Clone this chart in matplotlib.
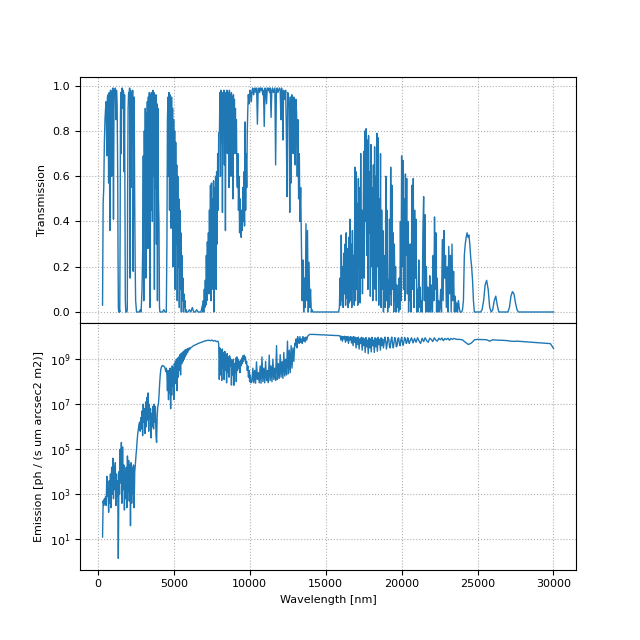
import numpy as np
import matplotlib
matplotlib.use("Agg")
import matplotlib.pyplot as plt

plt.rcParams["font.size"] = 8

# ---------------- Transmission (values read per wavelength band, nm) ----------------
t_b1 = [0.03, 0.48, 0.55, 0.75, 0.85, 0.90, 0.93, 0.69, 0.95, 0.96, 0.57, 0.97, 0.36,
        0.98, 0.97, 0.60, 0.98, 0.99, 0.41, 0.98, 0.97, 0.99, 0.85, 0.98, 0.92, 0.60]
t_b2 = [0.25, 0.02, 0.0, 0.0, 0.01, 0.0, 0.35, 0.85]
t_b3 = [0.97, 0.70, 0.98, 0.99, 0.90, 0.98, 0.97, 0.62, 0.96, 0.40]
t_b4 = [0.05, 0.0, 0.0, 0.0, 0.01]
t_b5 = [0.50, 0.90, 0.97, 0.96, 0.99, 0.15, 0.98, 0.55, 0.97, 0.85, 0.98, 0.18, 0.70,
        0.95, 0.50, 0.20]
t_b6 = [0.05, 0.0, 0.0, 0.0, 0.0, 0.01, 0.0, 0.10]
t_b7 = [0.30, 0.69, 0.05, 0.80, 0.40, 0.90, 0.15, 0.88, 0.60, 0.93, 0.28, 0.95, 0.70,
        0.97, 0.02, 0.96, 0.45, 0.97, 0.85, 0.40, 0.98, 0.60, 0.97, 0.10, 0.95, 0.55,
        0.96, 0.30, 0.92, 0.05, 0.90, 0.50, 0.40, 0.02]
t_b8 = [0.0, 0.0, 0.0, 0.01, 0.0, 0.0]
t_b9 = [0.30, 0.85, 0.95, 0.60, 0.97, 0.45, 0.96, 0.93, 0.37, 0.95, 0.70, 0.90, 0.20,
        0.85, 0.50, 0.80, 0.10, 0.75, 0.30, 0.65, 0.05, 0.60, 0.20, 0.50, 0.02, 0.45,
        0.10, 0.35, 0.0, 0.25, 0.05, 0.15, 0.0, 0.08, 0.02, 0.05, 0.0, 0.01]
t_b10 = [0.0, 0.0, 0.01, 0.0, 0.02, 0.0, 0.0, 0.01, 0.0, 0.0, 0.0, 0.03]
t_b11 = [0.0, 0.05, 0.0, 0.10, 0.02, 0.14, 0.03, 0.25, 0.05, 0.31, 0.10, 0.35, 0.08,
         0.45, 0.15, 0.56, 0.05, 0.57, 0.20, 0.50, 0.10, 0.58, 0.0, 0.55, 0.25, 0.60,
         0.10, 0.62, 0.30, 0.70, 0.45, 0.79]
t_b12 = [0.80, 0.97, 0.60, 0.98, 0.75, 0.97, 0.44, 0.96, 0.85, 0.98, 0.65, 0.97, 0.36,
         0.95, 0.80, 0.98, 0.70, 0.97, 0.90, 0.55, 0.98, 0.75, 0.96, 0.60, 0.97, 0.85,
         0.95, 0.50, 0.96, 0.80, 0.94, 0.70, 0.90, 0.75, 0.85, 0.60]
t_b13 = [0.55, 0.70, 0.45, 0.60, 0.35, 0.50, 0.40, 0.33, 0.45, 0.36, 0.55, 0.40, 0.62,
         0.38, 0.84, 0.45, 0.70, 0.55, 0.80, 0.90]
t_b14 = [0.96, 0.92, 0.98, 0.97, 0.93, 0.98, 0.99, 0.96, 0.98, 0.99, 0.97, 0.99, 0.83,
         0.98, 0.99, 0.97, 0.99, 0.98, 0.99, 0.96, 0.98, 0.82, 0.99, 0.98, 0.92, 0.99,
         0.98, 0.99, 0.97, 0.99, 0.86, 0.98, 0.99, 0.97, 0.98, 0.99, 0.65, 0.98, 0.99,
         0.97, 0.98, 0.99]
t_b15 = [0.98, 0.85, 0.99, 0.97, 0.76, 0.98, 0.97, 0.94, 0.98, 0.80, 0.51, 0.97, 0.96,
         0.90, 0.44, 0.95, 0.57, 0.96, 0.93, 0.70, 0.95, 0.92, 0.65, 0.94, 0.88, 0.60,
         0.85, 0.50, 0.70, 0.40, 0.55]
t_b16 = [0.30, 0.05, 0.23, 0.0, 0.15, 0.02, 0.39, 0.05, 0.36, 0.0, 0.22, 0.02, 0.10,
         0.0, 0.01]
t_b17 = [0.0, 0.0, 0.0, 0.0, 0.0, 0.0, 0.0, 0.0]
t_b18a = [0.02, 0.15, 0.03, 0.34, 0.05, 0.20, 0.02, 0.26, 0.08, 0.30, 0.03, 0.35, 0.06,
          0.28, 0.02, 0.33, 0.04, 0.41, 0.05, 0.30, 0.02, 0.36, 0.10, 0.25, 0.03]
t_b18b = [0.64, 0.05, 0.62, 0.10, 0.48, 0.03, 0.59, 0.20, 0.55, 0.04, 0.70, 0.15, 0.45, 0.08]
t_b18c = [0.30, 0.71, 0.15, 0.80, 0.40, 0.81, 0.25, 0.76, 0.10, 0.78, 0.35, 0.62, 0.07,
          0.74, 0.20, 0.55, 0.05, 0.65, 0.12]
t_b18d = [0.73, 0.10, 0.60, 0.05, 0.79, 0.20, 0.77, 0.03, 0.50, 0.15, 0.70, 0.02, 0.45,
          0.10, 0.36, 0.0, 0.25, 0.05]
t_b18e = [0.02, 0.60, 0.05, 0.45, 0.0, 0.14, 0.02, 0.41, 0.08, 0.64, 0.03, 0.56, 0.10,
          0.35, 0.0, 0.30, 0.05, 0.20, 0.0, 0.12, 0.02, 0.08, 0.0, 0.15, 0.01, 0.40, 0.05]
t_b18f = [0.69, 0.20, 0.67, 0.10, 0.50, 0.05, 0.61, 0.25, 0.59, 0.08, 0.40, 0.0, 0.30]
t_b18g = [0.05, 0.30, 0.0, 0.56, 0.10, 0.59, 0.02, 0.45, 0.15, 0.41, 0.0, 0.10, 0.0,
          0.23, 0.02, 0.11, 0.0, 0.05, 0.0, 0.35]
t_b18h = [0.51, 0.05, 0.43, 0.0, 0.20, 0.0, 0.11, 0.02, 0.0, 0.16, 0.0, 0.12, 0.03, 0.0,
          0.25, 0.05, 0.42, 0.10, 0.35, 0.0, 0.15, 0.0, 0.05, 0.0]
t_b18i = [0.02, 0.10, 0.0, 0.32, 0.05, 0.36, 0.15, 0.25, 0.02, 0.20, 0.0, 0.29, 0.08,
          0.25, 0.0, 0.30, 0.05, 0.18, 0.0, 0.07, 0.0, 0.04, 0.0, 0.05, 0.02, 0.0, 0.0]
t_b19 = [0.0, 0.01, 0.05, 0.25, 0.30, 0.33, 0.35, 0.33, 0.34, 0.30, 0.24, 0.20, 0.14,
         0.05, 0.0, 0.0]
t_b20 = [0.0, 0.0, 0.0, 0.0, 0.01, 0.05, 0.12, 0.14, 0.10, 0.02, 0.0, 0.01, 0.05, 0.07,
         0.03, 0.0, 0.0, 0.0, 0.0, 0.0, 0.0, 0.0, 0.02, 0.07, 0.09, 0.08, 0.04, 0.01,
         0.0, 0.0, 0.0, 0.0, 0.0, 0.0, 0.0, 0.0, 0.0, 0.0, 0.0, 0.0, 0.0, 0.0, 0.0, 0.0,
         0.0, 0.0, 0.0, 0.0, 0.0, 0.0, 0.0, 0.0]

trans_bands = [
    (300, 1300, t_b1), (1320, 1480, t_b2), (1500, 1780, t_b3), (1800, 1930, t_b4),
    (1950, 2450, t_b5), (2480, 2900, t_b6), (2950, 4050, t_b7), (4080, 4500, t_b8),
    (4540, 5800, t_b9), (5830, 6880, t_b10), (6900, 7950, t_b11), (8000, 9150, t_b12),
    (9180, 9870, t_b13), (9900, 11950, t_b14), (12000, 13350, t_b15),
    (13400, 14100, t_b16), (14150, 15850, t_b17), (15900, 16880, t_b18a),
    (16920, 17420, t_b18b), (17460, 18180, t_b18c), (18220, 18880, t_b18d),
    (18920, 19960, t_b18e), (20000, 20500, t_b18f), (20540, 21400, t_b18g),
    (21450, 22480, t_b18h), (22520, 23900, t_b18i), (23950, 24850, t_b19),
    (24900, 30000, t_b20),
]

# ---------------- Emission, log10 of ph/(s um arcsec2 m2) ----------------
e_b1 = [1.1, 2.7, 2.5, 2.8, 2.6, 2.9, 2.5, 3.8, 2.9, 3.3, 2.2, 3.6, 2.6, 3.9, 2.4, 4.2,
        3.0, 4.6, 2.8, 4.2, 3.2, 4.4, 2.5, 3.9, 2.9, 3.6, 0.15, 4.0, 3.0, 5.0, 3.5, 5.3,
        2.6, 5.1, 3.2, 4.3, 2.3, 4.0, 2.8, 4.2, 2.4, 4.7, 3.1, 4.5, 2.7, 4.3, 1.6, 4.4,
        2.6, 4.2, 3.0, 4.3, 2.4, 4.0]
e_b2 = [4.3, 4.7, 5.0, 5.4, 5.7, 5.9, 6.1, 6.2, 5.8, 6.4, 5.9, 6.7, 5.6, 7.0, 6.2, 6.8,
        5.7, 7.1, 6.0, 7.3, 6.3, 7.5, 5.8, 7.0, 6.4, 6.8, 5.5, 6.6, 6.0, 6.9, 5.9, 7.0,
        6.2, 6.9, 5.6, 5.3, 6.5, 6.9, 7.0]
e_b3 = [7.4, 7.9, 8.3, 8.55, 8.65, 8.7, 8.72, 8.7, 8.68, 8.66, 8.6, 8.45, 8.6]
e_b4 = [8.3, 7.6, 8.5, 7.2, 8.4, 7.5, 8.6, 6.8, 8.5, 7.4, 8.7, 7.8, 8.6, 7.2, 8.8, 7.9, 8.9]
e_b5 = [8.0, 9.0, 7.6, 9.05, 8.2, 9.1, 8.5, 9.2, 8.3, 9.25, 8.8, 9.3, 8.9, 9.35, 9.0,
        9.4, 9.1, 9.42, 9.2, 9.45, 9.3, 9.48, 9.4, 9.5, 9.45]
e_b6 = [9.5, 9.55, 9.6, 9.63, 9.66, 9.7, 9.72, 9.75, 9.77, 9.8, 9.82, 9.83, 9.84, 9.82,
        9.85, 9.8, 9.83, 9.78, 9.8]
e_b7 = [9.7, 8.1, 9.5, 8.3, 9.4, 8.05, 9.45, 8.6, 9.3, 8.1, 9.35, 8.5, 9.2, 7.95, 9.25,
        8.4, 9.1, 8.2, 9.15, 8.7, 9.0, 7.85, 8.9, 8.3, 9.0, 7.84, 8.8, 8.4, 9.05, 8.0,
        9.1, 8.5]
e_b8 = [9.0, 8.6, 8.9, 8.4, 8.95, 8.7, 9.05, 8.8, 9.15, 8.9, 9.18, 9.0, 9.1, 8.8, 8.9,
        8.5, 8.7, 8.2, 8.5, 8.0, 8.3, 7.95]
e_b9 = [8.0, 8.6, 7.95, 8.5, 7.93, 8.88, 8.1, 8.4, 7.95, 8.7, 7.93, 9.1, 8.0, 8.6, 7.95,
        8.9, 8.05, 8.5, 7.96, 9.18, 8.05, 8.7, 8.0, 9.0, 8.1, 8.6, 8.05, 9.6, 8.1, 8.8,
        8.15, 9.2, 8.2, 8.9, 8.15, 9.3, 8.25, 9.0, 8.3, 9.8, 8.35, 9.4, 8.4, 9.6, 8.6,
        9.5, 8.9, 9.7]
e_b10 = [9.6, 9.9, 9.5, 10.0, 9.8, 9.7, 10.0, 9.75, 9.9, 9.7, 10.0, 9.8, 9.95, 9.76,
         9.98, 9.85, 10.0, 10.05, 10.08]
e_b11 = [10.1, 10.1, 10.1, 10.09, 10.09, 10.08, 10.08, 10.07, 10.07, 10.06, 10.06,
         10.05, 10.05, 10.04]
e_b12 = [10.03, 9.85, 10.02, 9.8, 10.0, 9.9, 10.02, 9.75, 10.0, 9.82, 10.01, 9.7, 9.98,
         9.85, 10.0, 9.72, 9.98, 9.6, 10.0, 9.75, 9.97, 9.5, 9.95, 9.65, 9.98, 9.45, 9.9,
         9.7, 9.97, 9.4, 9.95, 9.6, 9.9, 9.3, 9.96, 9.55, 9.85, 9.25, 9.95, 9.5, 9.9,
         9.32, 9.97, 9.6, 9.85, 9.3, 9.95, 9.55, 9.9, 9.35, 9.97, 9.65, 9.88, 9.4, 9.95,
         9.6, 9.9]
e_b13 = [9.5, 9.75, 9.98, 9.8, 9.45, 9.7, 9.97, 9.9, 9.55, 9.5, 9.85, 9.98, 9.7, 9.5,
         9.75, 9.96, 9.85, 9.55, 9.6, 9.92, 9.95, 9.7, 9.6, 9.85, 9.97, 9.75, 9.62, 9.8,
         9.96, 9.9, 9.7, 9.75, 9.95, 9.85, 9.7]
e_b14 = [9.8, 9.95, 9.72, 9.92, 9.75, 9.95, 9.8, 9.7, 9.93, 9.78, 9.95, 9.82, 9.75,
         9.93, 9.88, 9.78, 9.95, 9.85, 9.8, 9.93, 9.86, 9.94, 9.82, 9.92, 9.87, 9.93,
         9.84, 9.92, 9.88, 9.92, 9.9]
e_b15 = [9.88, 9.88, 9.86, 9.75, 9.65, 9.72, 9.86, 9.88, 9.87, 9.87, 9.86, 9.8, 9.86,
         9.85, 9.84, 9.84, 9.83, 9.82, 9.8, 9.79, 9.8, 9.79, 9.78, 9.77, 9.76, 9.75,
         9.74, 9.73, 9.72, 9.71, 9.7, 9.69, 9.48]

emis_bands = [
    (300, 2420, e_b1), (2460, 3980, e_b2), (4020, 4500, e_b3), (4540, 5100, e_b4),
    (5130, 6060, e_b5), (6100, 7900, e_b6), (7950, 9190, e_b7), (9230, 10070, e_b8),
    (10140, 12960, e_b9), (13000, 13900, e_b10), (13950, 15900, e_b11),
    (15950, 18750, e_b12), (18800, 20500, e_b13), (20550, 23550, e_b14),
    (23600, 30000, e_b15),
]


def assemble(bands):
    wl, val = [], []
    for start, end, values in bands:
        wl.append(np.linspace(start, end, len(values)))
        val.append(np.asarray(values, dtype=float))
    return np.concatenate(wl), np.concatenate(val)


wl_t, trans = assemble(trans_bands)
wl_e, emis_log = assemble(emis_bands)
emis = 10.0 ** emis_log

fig, (ax1, ax2) = plt.subplots(2, 1, sharex=True, figsize=(6.4, 6.4), dpi=100)
fig.subplots_adjust(hspace=0)

ax1.plot(wl_t, trans, lw=1, color="#1f77b4")
ax1.set_ylabel("Transmission")
ax1.grid(ls=":")

ax2.semilogy(wl_e, emis, lw=1, color="#1f77b4")
ax2.set_ylabel("Emission [ph / (s um arcsec2 m2)]")
ax2.set_xlabel("Wavelength [nm]")
ax2.grid(ls=":")

fig.savefig("out.png", dpi=100)
